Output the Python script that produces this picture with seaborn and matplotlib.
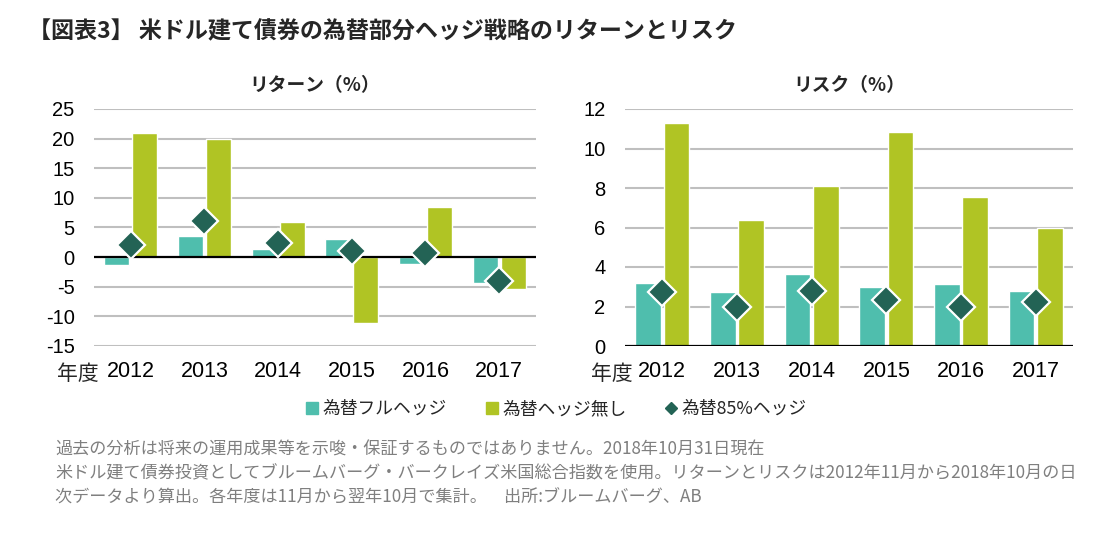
import pandas as pd
import seaborn as sns
import matplotlib.pyplot as plt
from matplotlib.lines import Line2D

sns.set_theme(style="white")
plt.rcParams['font.family'] = ['Liberation Sans', 'Noto Sans CJK JP', 'DejaVu Sans']
plt.rcParams['axes.unicode_minus'] = False

years = ["2012", "2013", "2014", "2015", "2016", "2017"]
series = ["為替フルヘッジ", "為替ヘッジ無し", "為替85%ヘッジ"]

ret_full = [-1.3, 3.5, 1.3, 3.0, -1.2, -4.4]
ret_none = [21.0, 20.0, 6.0, -11.1, 8.4, -5.4]
ret_85 = [2.1, 6.1, 2.4, 1.1, 0.7, -4.0]

risk_full = [3.19, 2.73, 3.65, 2.99, 3.14, 2.78]
risk_none = [11.29, 6.38, 8.10, 10.84, 7.54, 5.99]
risk_85 = [2.73, 1.97, 2.78, 2.33, 1.97, 2.23]

teal = "#4FBEAD"
lime = "#B0C424"
dark = "#236355"
grid_c = "#BFBFBF"
jp = ['Noto Sans CJK JP', 'DejaVu Sans']


def long_bars(full, none):
    return pd.DataFrame({
        "year": years * 2,
        "value": full + none,
        "series": [series[0]] * 6 + [series[1]] * 6,
    })


fig = plt.figure(figsize=(11.08, 5.38), dpi=100)
ax1 = fig.add_axes([94 / 1108, 1 - 346 / 538, 442 / 1108, 237 / 538])
ax2 = fig.add_axes([625 / 1108, 1 - 346 / 538, 448 / 1108, 237 / 538])

panels = [
    (ax1, ret_full, ret_none, ret_85, (-15, 25), range(-15, 26, 5), "リターン（%）"),
    (ax2, risk_full, risk_none, risk_85, (0, 12), range(0, 13, 2), "リスク（%）"),
]

for ax, full, none, p85, ylim, yt, sub in panels:
    df = long_bars(full, none)
    sns.barplot(data=df, x="year", y="value", hue="series", hue_order=series[:2],
                palette=[teal, lime], width=0.76, gap=0.1, saturation=1,
                legend=False, ax=ax, zorder=2)
    sns.pointplot(x=years, y=p85, color=dark, markers="D", linestyle="none",
                  markersize=14, markeredgecolor="white", markeredgewidth=1.6,
                  errorbar=None, ax=ax, zorder=5)
    ax.set_ylim(*ylim)
    ax.set_xlim(-0.5, 5.5)
    ax.set_yticks(list(yt))
    for v in yt:
        if v != 0:
            ax.axhline(v, color=grid_c, lw=1.5, zorder=0)
    ax.axhline(0, color="black", lw=1.6, zorder=3)
    for s in ax.spines.values():
        s.set_visible(False)
    ax.set_xlabel("")
    ax.set_ylabel("")
    ax.tick_params(axis="both", length=0, colors="black")
    ax.tick_params(axis="y", pad=14, labelsize=14.5)
    ax.tick_params(axis="x", pad=11, labelsize=15.5)
    ax.set_title(sub, fontsize=13.5, fontweight="bold", pad=13, family=jp)

fig.text(57 / 1108, 1 - 374 / 538, "年度", fontsize=15, va="center", ha="left", family=jp)
fig.text(591 / 1108, 1 - 374 / 538, "年度", fontsize=15, va="center", ha="left", family=jp)

fig.text(28 / 1108, 1 - 32 / 538, "【図表3】 米ドル建て債券の為替部分ヘッジ戦略のリターンとリスク",
         fontsize=16.6, fontweight="bold", va="center", ha="left", family=jp)

handles = [
    Line2D([], [], marker="s", color=teal, linestyle="none", markersize=8),
    Line2D([], [], marker="s", color=lime, linestyle="none", markersize=8),
    Line2D([], [], marker="D", color=dark, linestyle="none", markersize=6),
]
fig.legend(handles, series, loc="center", bbox_to_anchor=(556 / 1108, 1 - 409 / 538),
           ncol=3, frameon=False, handletextpad=0.2,
           columnspacing=2.1, handlelength=0.8,
           prop={'family': jp, 'size': 12.8})

notes = [
    "過去の分析は将来の運用成果等を示唆・保証するものではありません。2018年10月31日現在",
    "米ドル建て債券投資としてブルームバーグ・バークレイズ米国総合指数を使用。リターンとリスクは2012年11月から2018年10月の日",
    "次データより算出。各年度は11月から翌年10月で集計。　出所:ブルームバーグ、AB",
]
for i, line in enumerate(notes):
    fig.text(55 / 1108, 1 - (450 + i * 23.5) / 538, line, fontsize=12.3, color="#7F7F7F",
             va="center", ha="left", family=jp)

fig.savefig("out.png", dpi=100)
